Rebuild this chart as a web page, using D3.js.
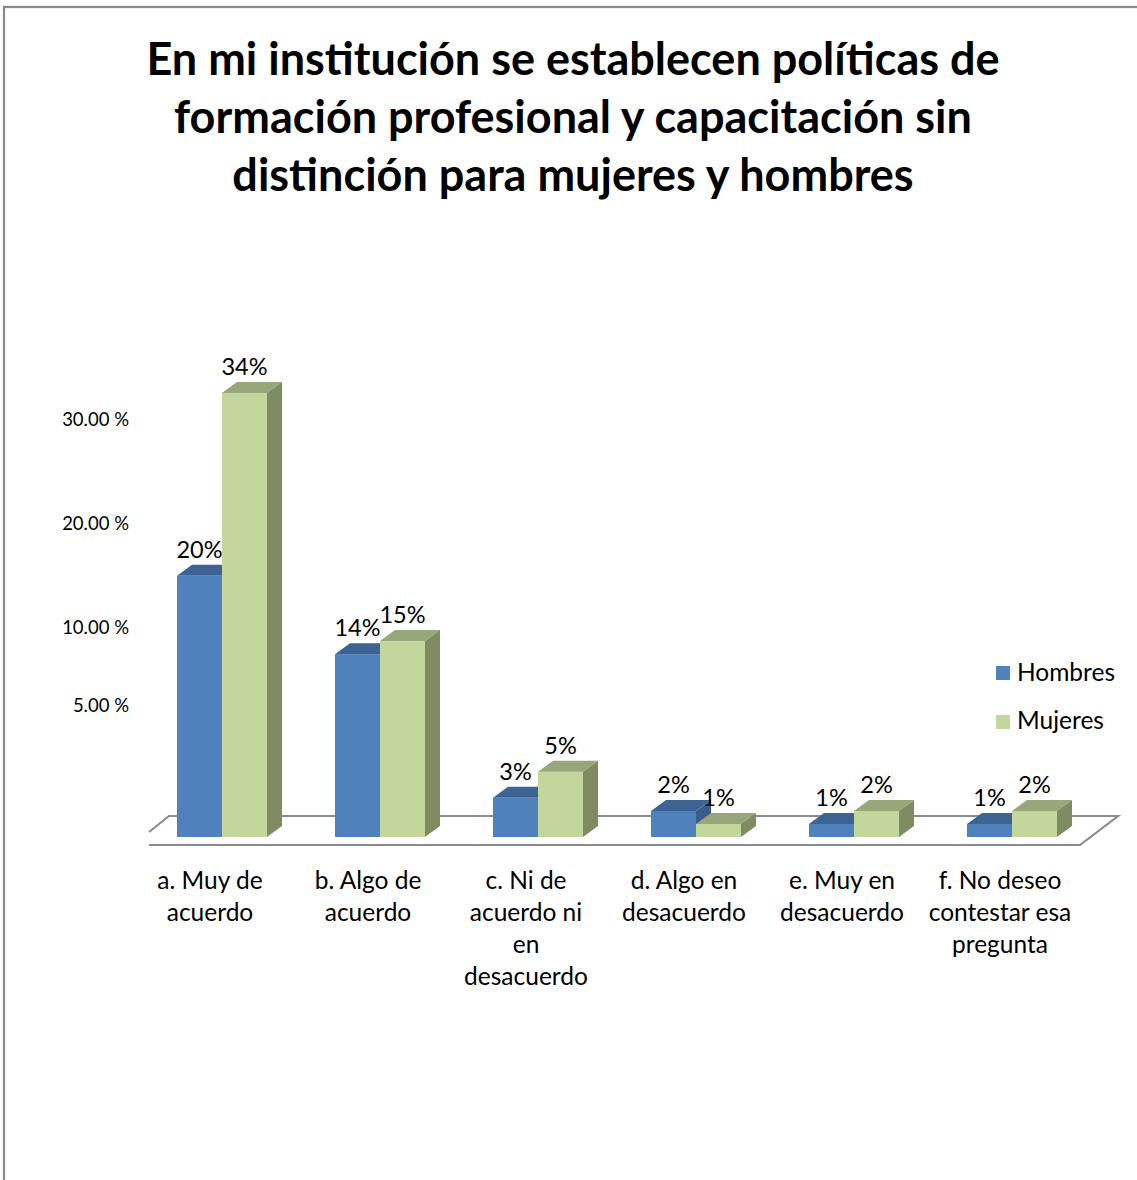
<!DOCTYPE html>
<html>
<head>
<meta charset="utf-8">
<script src="https://cdn.jsdelivr.net/npm/d3@7"></script>
<style>
  html, body { margin: 0; padding: 0; background: #fff; }
  svg { display: block; }
  text { font-family: Lato, "Open Sans", sans-serif; fill: #000; }
</style>
</head>
<body>
<svg id="chart" width="1137" height="1180"></svg>
<script>
// Survey answers (share of respondents, %)
const titleLines = [
  "En mi institución se establecen políticas de",
  "formación profesional y capacitación sin",
  "distinción para mujeres y hombres"
];
const categories = [
  "a. Muy de\nacuerdo",
  "b. Algo de\nacuerdo",
  "c. Ni de\nacuerdo ni\nen\ndesacuerdo",
  "d. Algo en\ndesacuerdo",
  "e. Muy en\ndesacuerdo",
  "f. No deseo\ncontestar esa\npregunta"
];
const seriesNames = ["Hombres", "Mujeres"];
const hombres = [20, 14, 3, 2, 1, 1];
const mujeres = [34, 15, 5, 1, 2, 2];
const tickValues = [5, 10, 20, 30];

const svg = d3.select("#chart");

// outer frame
svg.append("rect")
  .attr("x", 4).attr("y", 7).attr("width", 1200).attr("height", 1300)
  .attr("fill", "none").attr("stroke", "#8a8a8a").attr("stroke-width", 2.2);

// title
svg.append("g").selectAll("text").data(titleLines).join("text")
  .attr("x", 573).attr("y", (d, i) => 75 + i * 58)
  .attr("text-anchor", "middle")
  .attr("font-weight", "bold").attr("font-size", 45)
  .text(d => d);

// geometry of the 3D plot
const baseY = 837;           // bottom of bar fronts
const depth = { dx: 15, dy: 11 };
const barW = 45;

const x = d3.scaleBand().domain(d3.range(categories.length)).range([143, 1091]);
const series = d3.scaleBand().domain(seriesNames).range([0, barW * 2]);
const y = d3.scaleLinear().domain([0, 34]).range([baseY, 393]);

// vertical axis labels sit on the back wall, spaced unevenly
const yAxisScale = d3.scaleLinear().domain([5, 10, 30]).range([706, 628, 420]);

const palette = {
  Hombres: { front: "#4f81bd", top: "#3d6392", side: "#385d8a" },
  Mujeres: { front: "#c3d69b", top: "#98a779", side: "#7f8b60" }
};

// floor
const fl = { x0: 149, x1: 1080, yFront: 845, yBack: 816 };
svg.append("path")
  .attr("d", `M${fl.x0},${fl.yFront} L${fl.x1},${fl.yFront} L${fl.x1 + 38},${fl.yBack} L${fl.x0 + 20},${fl.yBack} L${fl.x0},${fl.yBack + 16}`)
  .attr("fill", "none").attr("stroke", "#8c8c8c").attr("stroke-width", 2.2);

// y axis
const axis = d3.axisLeft(yAxisScale).tickValues(tickValues).tickSize(0).tickPadding(0)
  .tickFormat(d => d.toFixed(2) + " %");
const gAxis = svg.append("g").attr("transform", "translate(129,0)").call(axis);
gAxis.select(".domain").remove();
gAxis.selectAll("text").attr("font-family", "Lato, sans-serif").attr("font-size", 18.5).attr("fill", "#000");

// bars
const rows = [];
categories.forEach((c, i) => {
  rows.push({ i, s: "Hombres", v: hombres[i] });
  rows.push({ i, s: "Mujeres", v: mujeres[i] });
});

const gBars = svg.append("g");
rows.forEach(r => {
  const x0 = x(r.i) + (x.bandwidth() - barW * 2) / 2 + series(r.s);
  const top = y(r.v);
  const col = palette[r.s];
  const g = gBars.append("g");
  g.append("rect").attr("x", x0).attr("y", top).attr("width", barW).attr("height", baseY - top)
    .attr("fill", col.front);
  g.append("path")
    .attr("d", `M${x0},${top} L${x0 + depth.dx},${top - depth.dy} L${x0 + barW + depth.dx},${top - depth.dy} L${x0 + barW},${top} Z`)
    .attr("fill", col.top);
  g.append("path")
    .attr("d", `M${x0 + barW},${top} L${x0 + barW + depth.dx},${top - depth.dy} L${x0 + barW + depth.dx},${baseY - depth.dy} L${x0 + barW},${baseY} Z`)
    .attr("fill", col.side);
  g.append("text")
    .attr("x", x0 + barW / 2).attr("y", top - depth.dy - 7)
    .attr("text-anchor", "middle").attr("font-size", 23.5)
    .text(r.v + "%");
});

// category labels
const gCat = svg.append("g");
categories.forEach((c, i) => {
  const t = gCat.append("text")
    .attr("text-anchor", "middle").attr("font-size", 24.5)
    .attr("transform", `translate(${x(i) + x.bandwidth() / 2 - 12},889)`);
  c.split("\n").forEach((line, k) => {
    t.append("tspan").attr("x", 0).attr("y", k * 32).text(line);
  });
});

// legend
const gLeg = svg.append("g");
seriesNames.forEach((s, k) => {
  gLeg.append("rect").attr("x", 996).attr("y", 666 + k * 49).attr("width", 14).attr("height", 14)
    .attr("fill", palette[s].front);
  gLeg.append("text").attr("x", 1017).attr("y", 681 + k * 48).attr("font-size", 24.5).text(s);
});
</script>
</body>
</html>
